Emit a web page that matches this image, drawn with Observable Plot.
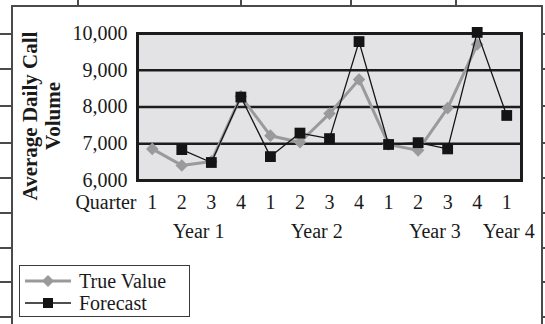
<!DOCTYPE html>
<html>
<head>
<meta charset="utf-8">
<script src="https://cdn.jsdelivr.net/npm/d3@7"></script>
<script src="https://cdn.jsdelivr.net/npm/@observablehq/plot@0.6"></script>
<style>
  html, body { margin: 0; padding: 0; background: #fff; }
  #wrap { position: relative; width: 545px; height: 324px; overflow: hidden; font-family: "Liberation Serif", "Times New Roman", serif; color: #1a1a1a; }
  .deco { position: absolute; background: #4a4a4a; }
  #chart { position: absolute; left: 0; top: 0; }
  #legend { position: absolute; left: 19px; top: 265px; width: 169px; height: 50px; border: 1.5px solid #3a3a3a; background: #fff; }
  .row { position: absolute; left: 0; height: 22px; display: flex; align-items: center; font-size: 20px; }
  .row svg { margin-left: 5px; margin-right: 8px; }
</style>
</head>
<body>
<div id="wrap"></div>
<script>
// ---- data ----
const quarters = ["1","2","3","4","1","2","3","4","1","2","3","4","1"];
const yearLabels = ["Year 1","Year 2","Year 3","Year 4"];
const yearOfQuarter = [0,0,0,0,1,1,1,1,2,2,2,2,3];
const trueValue = [6860, 6410, 6520, 8290, 7220, 7040, 7820, 8750, 6980, 6820, 7970, 9700, null];
const forecast  = [null, 6840, 6490, 8270, 6650, 7290, 7140, 9780, 6980, 7030, 6860, 10030, 7770];
const yTicks = [6000, 7000, 8000, 9000, 10000];
const seriesNames = ["True Value", "Forecast"];

const grayColor = "#9a9a9a";
const darkColor = "#141414";

const wrap = document.getElementById("wrap");

// decorative scanned-page frame lines
function deco(l, t, w, h) {
  const d = document.createElement("div");
  d.className = "deco";
  Object.assign(d.style, {left: l + "px", top: t + "px", width: w + "px", height: h + "px"});
  wrap.appendChild(d);
}
deco(11, 5, 531, 1.5);      // top of frame
deco(11, 5, 1.5, 330);      // left of frame
deco(541, 5, 1.5, 330);     // right of frame
[77, 240, 350, 455].forEach(x => deco(x, 0, 1.5, 5));
[33, 68, 105, 142, 177, 212, 247, 281, 316].forEach(y => { deco(0, y, 11, 1.5); deco(542, y, 3, 1.5); });

const trueData = trueValue.map((v, i) => ({i, v})).filter(d => d.v != null);
const fcData = forecast.map((v, i) => ({i, v})).filter(d => d.v != null);
const yearData = yearLabels.map((label, k) => {
  const idx = yearOfQuarter.map((y, i) => y === k ? i : null).filter(i => i != null);
  return {label, x: d3.mean(idx)};
});

const diamond = {draw(ctx, size) { const r = Math.sqrt(size / Math.PI); ctx.moveTo(0, -r); ctx.lineTo(r, 0); ctx.lineTo(0, r); ctx.lineTo(-r, 0); ctx.closePath(); }};
const square = {draw(ctx, size) { const r = Math.sqrt(size / Math.PI); ctx.rect(-r, -r, 2 * r, 2 * r); }};

const chart = Plot.plot({
  width: 545, height: 324,
  marginLeft: 137, marginRight: 24, marginTop: 33, marginBottom: 144,
  style: {fontFamily: "'Liberation Serif', 'Times New Roman', serif", fontSize: "20px", background: "transparent", color: "#1a1a1a", overflow: "visible"},
  x: {type: "linear", domain: [-0.5, quarters.length - 0.5], axis: null, label: null},
  y: {domain: [6000, 10000], axis: null, label: null},
  marks: [
    Plot.frame({fill: "#e3e3e6"}),
    Plot.ruleY(yTicks, {stroke: "#1c1c1c", strokeWidth: 2.6}),
    Plot.frame({stroke: "#1c1c1c", strokeWidth: 3}),
    Plot.line(trueData, {x: "i", y: "v", stroke: grayColor, strokeWidth: 3}),
    Plot.dot(trueData, {x: "i", y: "v", symbol: diamond, fill: grayColor, r: 6.3}),
    Plot.line(fcData, {x: "i", y: "v", stroke: darkColor, strokeWidth: 1.3}),
    Plot.dot(fcData, {x: "i", y: "v", symbol: square, fill: darkColor, r: 5.4}),
    Plot.axisY({ticks: yTicks, tickFormat: d3.format(","), tickSize: 0, tickPadding: 10, fontSize: 20, label: null}),
    Plot.axisX({ticks: quarters.map((_, i) => i), tickFormat: i => quarters[i], tickSize: 0, tickPadding: 14, fontSize: 20, label: null}),
    Plot.text(["Quarter"], {x: () => -0.5, frameAnchor: "bottom", textAnchor: "end", lineAnchor: "top", dy: 14, dx: -1, fontSize: 20}),
    Plot.text(yearData, {x: "x", text: "label", frameAnchor: "bottom", lineAnchor: "top", dy: 43, dx: 2, fontSize: 20}),
    Plot.text(["Average Daily Call\nVolume"], {frameAnchor: "left", textAnchor: "middle", dx: -96, dy: 9, rotate: -90, fontWeight: "bold", fontSize: 21, lineHeight: 1.1})
  ]
});
chart.id = "chart";
wrap.appendChild(chart);

// legend
const legend = document.createElement("div");
legend.id = "legend";
const rows = [
  {name: seriesNames[0], color: grayColor, sw: 3, shape: "diamond", top: 4},
  {name: seriesNames[1], color: darkColor, sw: 1.3, shape: "square", top: 26}
];
rows.forEach(r => {
  const row = document.createElement("div");
  row.className = "row";
  row.style.top = r.top + "px";
  const marker = r.shape === "diamond"
    ? `<path d="M23,5 L29,11 L23,17 L17,11 Z" fill="${r.color}"/>`
    : `<rect x="18" y="6" width="10" height="10" fill="${r.color}"/>`;
  row.innerHTML = `<svg width="46" height="22"><line x1="0" x2="46" y1="11" y2="11" stroke="${r.color}" stroke-width="${r.sw}"/>${marker}</svg><span>${r.name}</span>`;
  legend.appendChild(row);
});
wrap.appendChild(legend);
</script>
</body>
</html>
